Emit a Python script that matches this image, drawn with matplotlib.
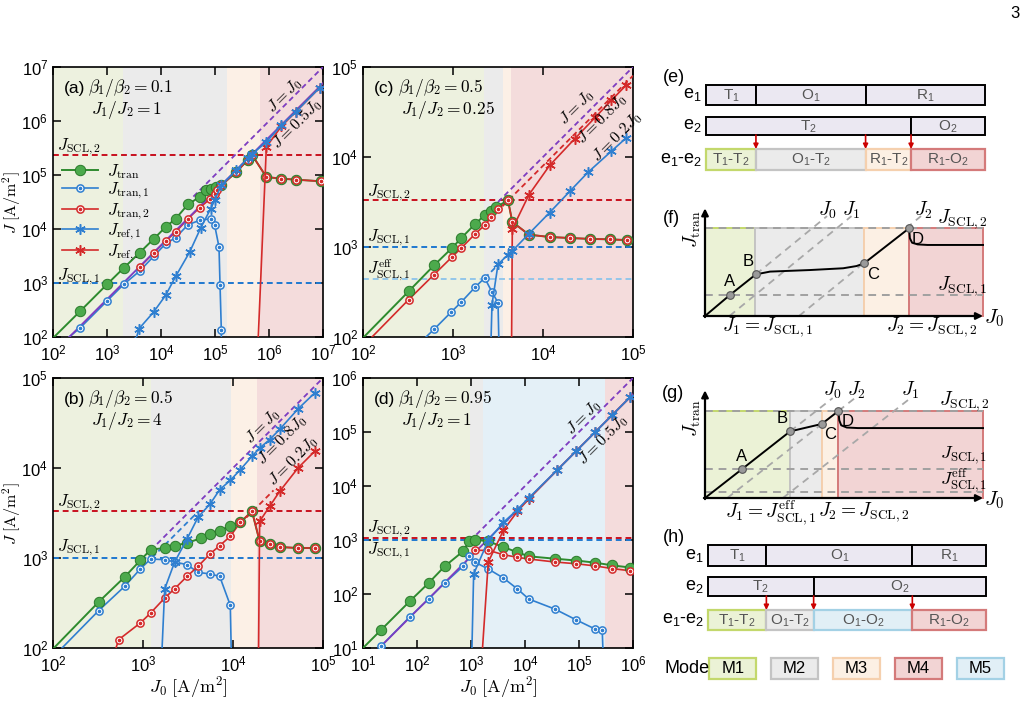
import numpy as np
import matplotlib
matplotlib.use("Agg")
import matplotlib.pyplot as plt
from matplotlib.patches import Rectangle
from matplotlib.ticker import LogLocator, NullLocator

plt.rcParams["font.family"] = ["Liberation Sans", "DejaVu Sans"]
plt.rcParams["mathtext.fontset"] = "cm"
plt.rcParams["axes.linewidth"] = 1.2

W, H = 1027, 702

# ---------------- data: log10 of J0 (x) and J (y), A/m^2 ----------------
# panel (a)  beta1/beta2 = 0.1, J1/J2 = 1
a_bounds = [2, 3.30, 5.22, 5.83, 7]
a_modes = ["M1", "M2", "M3", "M4"]
a_tran_x = [2.0, 2.506, 3.0, 3.309, 3.605, 3.864, 4.086, 4.272, 4.5, 4.716, 4.84, 4.93, 5.02, 5.117,
            5.395, 5.611, 5.691, 5.951, 6.228, 6.494, 6.969]
a_tran_y = [1.98, 2.481, 2.975, 3.278, 3.562, 3.815, 4.037, 4.191, 4.457, 4.593, 4.72, 4.75, 4.77, 4.81,
            5.056, 5.284, 5.364, 4.963, 4.932, 4.914, 4.883]
a_tran1_x = [2.3, 2.506, 3.0, 3.309, 3.605, 3.864, 4.086, 4.272, 4.5, 4.716, 4.92, 4.994, 5.074, 5.093, 5.117, 5.12]
a_tran1_y = [2.0, 2.173, 2.667, 2.975, 3.222, 3.494, 3.728, 3.84, 4.08, 4.16, 4.19, 4.07, 3.667, 2.97, 2.136, 1.5]
a_tran2_x = [3.605, 3.864, 4.086, 4.272, 4.5, 4.716, 4.901, 4.994, 5.043, 5.117, 5.395, 5.611, 5.691,
             5.951, 6.228, 6.494, 6.969]
a_tran2_y = [3.296, 3.556, 3.778, 3.944, 4.191, 4.395, 4.549, 4.654, 4.716, 4.809, 5.056, 5.284, 5.364,
             4.963, 4.932, 4.914, 4.883]
a_ref1_x = [3.52, 3.593, 3.864, 4.086, 4.272, 4.531, 4.735, 4.92, 4.994, 5.117, 5.395, 5.611, 5.691,
            5.951, 6.228, 6.494, 6.938]
a_ref1_y = [1.9, 2.154, 2.463, 2.772, 3.123, 3.574, 4.019, 4.377, 4.531, 4.81, 5.09, 5.31, 5.39,
            5.611, 5.92, 6.167, 6.617]
a_ref2_x = [5.78, 5.951, 6.228, 6.494, 6.938]
a_ref2_y = [1.5, 5.52, 5.9, 6.167, 6.617]
a_scl1, a_scl2 = 3.0, 5.364

# panel (b)  beta1/beta2 = 0.5, J1/J2 = 4
b_bounds = [2, 3.085, 3.98, 4.267, 5]
b_modes = ["M1", "M2", "M3", "M4"]
b_tran_x = [2.0, 2.507, 2.796, 2.970, 3.085, 3.241, 3.352, 3.489, 3.641, 3.748, 3.852, 3.963, 4.081,
            4.211, 4.296, 4.407, 4.519, 4.722, 4.907]
b_tran_y = [1.99, 2.511, 2.789, 2.974, 3.093, 3.111, 3.137, 3.167, 3.219, 3.270, 3.304, 3.352, 3.396,
            3.519, 3.185, 3.156, 3.122, 3.111, 3.111]
b_tran1_x = [2.1, 2.507, 2.796, 2.970, 3.085, 3.241, 3.352, 3.489, 3.611, 3.748, 3.852, 3.970, 3.99]
b_tran1_y = [2.0, 2.415, 2.685, 2.878, 2.989, 2.981, 2.956, 2.926, 2.841, 2.822, 2.796, 2.474, 1.5]
b_tran2_x = [2.7, 2.730, 2.970, 3.085, 3.241, 3.352, 3.489, 3.611, 3.748, 3.852, 3.970, 4.081, 4.211,
             4.296, 4.407, 4.519, 4.722, 4.907]
b_tran2_y = [2.0, 2.093, 2.278, 2.389, 2.556, 2.659, 2.796, 2.907, 3.048, 3.137, 3.241, 3.396, 3.519,
             3.185, 3.156, 3.122, 3.111, 3.111]
b_ref1_x = [3.19, 3.241, 3.352, 3.489, 3.611, 3.748, 3.852, 3.970, 4.081, 4.211, 4.296, 4.407, 4.519,
            4.722, 4.907]
b_ref1_y = [1.5, 2.656, 2.956, 3.211, 3.452, 3.604, 3.759, 3.863, 3.981, 4.13, 4.222, 4.315, 4.43,
            4.656, 4.833]
b_ref2_x = [4.28, 4.296, 4.407, 4.519, 4.722, 4.907]
b_ref2_y = [1.5, 3.407, 3.574, 3.741, 4.0, 4.185]
b_scl1, b_scl2 = 3.0, 3.519

# panel (c)  beta1/beta2 = 0.5, J1/J2 = 0.25
c_bounds = [2, 3.344, 3.556, 3.64, 5]
c_modes = ["M1", "M2", "M3", "M4"]
c_tran_x = [2.0, 2.507, 2.789, 2.989, 3.093, 3.248, 3.352, 3.426, 3.481, 3.611, 3.659, 3.844, 4.074,
            4.3, 4.52, 4.74, 4.93]
c_tran_y = [1.99, 2.507, 2.796, 2.989, 3.1, 3.259, 3.352, 3.4, 3.444, 3.519, 3.278, 3.137, 3.111,
            3.10, 3.09, 3.085, 3.077]
c_tran1_x = [2.7, 2.789, 2.981, 3.093, 3.248, 3.352, 3.433, 3.5, 3.52]
c_tran1_y = [2.0, 2.085, 2.278, 2.389, 2.556, 2.656, 2.5, 2.381, 1.5]
c_tran2_x = [2.1, 2.507, 2.789, 2.989, 3.093, 3.248, 3.352, 3.426, 3.5, 3.611, 3.659, 3.844, 4.074,
             4.3, 4.52, 4.74, 4.93]
c_tran2_y = [2.0, 2.415, 2.693, 2.889, 2.989, 3.148, 3.241, 3.333, 3.419, 3.519, 3.278, 3.137, 3.111,
             3.10, 3.09, 3.085, 3.077]
c_ref1_x = [3.41, 3.433, 3.5, 3.611, 3.659, 3.844, 4.074, 4.296, 4.5, 4.759, 4.926]
c_ref1_y = [1.5, 2.359, 2.807, 2.915, 2.956, 3.148, 3.383, 3.617, 3.83, 4.064, 4.213]
c_ref2_x = [3.648, 3.659, 3.844, 4.074, 4.35, 4.58, 4.76, 4.926]
c_ref2_y = [1.5, 3.2, 3.581, 3.907, 4.2, 4.44, 4.63, 4.8]
c_scl1, c_scl2, c_scl1_eff = 3.0, 3.519, 2.65

# panel (d)  beta1/beta2 = 0.95, J1/J2 = 1
d_bounds = [1, 2.988, 3.222, 5.48, 6]
d_modes = ["M1", "M2", "M5", "M4"]
d_tran_x = [1.0, 1.33, 1.864, 2.216, 2.512, 2.852, 2.97, 3.08, 3.32, 3.6, 3.86, 4.07, 4.55, 4.95, 5.3,
            5.62, 5.95]
d_tran_y = [1.0, 1.33, 1.864, 2.204, 2.512, 2.79, 2.988, 3.006, 2.975, 2.870, 2.772, 2.698, 2.654, 2.62,
            2.58, 2.53, 2.49]
d_tran1_x = [1.301, 1.33, 1.864, 2.216, 2.512, 2.852, 2.97, 3.08, 3.32, 3.6, 3.86, 4.07, 4.55, 4.95, 5.3,
             5.43, 5.46]
d_tran1_y = [1.0, 1.03, 1.574, 1.907, 2.204, 2.512, 2.698, 2.586, 2.463, 2.296, 2.093, 1.907, 1.722,
             1.52, 1.35, 1.33, 0.5]
d_tran2_x = [3.08, 3.32, 3.6, 3.86, 4.07, 4.55, 4.95, 5.3, 5.62, 5.95]
d_tran2_y = [2.809, 2.809, 2.728, 2.679, 2.648, 2.593, 2.56, 2.52, 2.47, 2.43]
d_ref1_x = [3.006, 3.049, 3.32, 3.6, 3.86, 4.07, 4.6, 4.95, 5.3, 5.62, 5.95]
d_ref1_y = [0.5, 2.370, 2.994, 3.327, 3.562, 3.778, 4.299, 4.649, 4.999, 5.319, 5.649]
d_ref2_x = [3.18, 3.32, 3.6, 3.86, 4.07, 4.6, 4.95, 5.3, 5.62, 5.95]
d_ref2_y = [0.5, 2.593, 3.179, 3.531, 3.759, 4.299, 4.649, 4.999, 5.319, 5.649]
d_scl1, d_scl2 = 2.995, 3.03

# schematic (e)/(f): boundaries as fraction of the J0 range
e_e1_bounds = [0, 0.179, 0.572, 1.0]
e_e1_names = ["T1", "O1", "R1"]
e_e2_bounds = [0, 0.735, 1.0]
e_e2_names = ["T2", "O2"]
e_mix_bounds = [0, 0.179, 0.572, 0.735, 1.0]
e_mix_names = ["T1-T2", "O1-T2", "R1-T2", "R1-O2"]
e_mix_modes = ["M1", "M2", "M3", "M4"]

h_e1_bounds = [0, 0.21, 0.735, 1.0]
h_e1_names = ["T1", "O1", "R1"]
h_e2_bounds = [0, 0.38, 1.0]
h_e2_names = ["T2", "O2"]
h_mix_bounds = [0, 0.21, 0.38, 0.735, 1.0]
h_mix_names = ["T1-T2", "O1-T2", "O1-O2", "R1-O2"]
h_mix_modes = ["M1", "M2", "M5", "M4"]

f_scl = [0.19, 0.79]
f_curve_x = [0, 0.09, 0.183, 0.234, 0.377, 0.497, 0.545, 0.572, 0.734, 0.737, 0.745, 0.765, 0.8, 1.0]
f_curve_y = [0, 0.19, 0.375, 0.40, 0.414, 0.43, 0.45, 0.474, 0.79, 0.70, 0.66, 0.645, 0.64, 0.64]
f_pts_x = [0.09, 0.183, 0.572, 0.734]
f_pts_y = [0.19, 0.375, 0.474, 0.79]

g_bounds = [0, 0.306, 0.42, 0.48, 1.0]
g_modes = ["M1", "M2", "M3", "M4"]
g_scl = [0.054, 0.26, 0.784]
g_curve_x = [0, 0.133, 0.306, 0.42, 0.48, 0.483, 0.49, 0.51, 0.55, 1.0]
g_curve_y = [0, 0.26, 0.60, 0.667, 0.784, 0.70, 0.655, 0.635, 0.63, 0.63]
g_pts_x = [0.133, 0.306, 0.42, 0.48]
g_pts_y = [0.26, 0.60, 0.667, 0.784]

mode_names = ["M1", "M2", "M3", "M4", "M5"]

# ---------------- styles ----------------
GREEN, GREEN_FACE, GREEN_EDGE = "#2e8b2e", "#4caa4c", "#2a7a2a"
BLUE, RED, PURPLE = "#2f7fd0", "#d42a2a", "#7d3cc0"
SCL2_RED, SCL1_BLUE, EFF_BLUE = "#c8101e", "#1f78d0", "#93c6ea"
plot_face = {"M1": "#edf1df", "M2": "#ebebeb", "M3": "#fcf0e6", "M4": "#f4dcdc", "M5": "#e4f0f7"}
box_face = {"M1": "#ebf2d6", "M2": "#ebebeb", "M3": "#fcf0e4", "M4": "#f2d4d4", "M5": "#e1eff6"}
box_edge = {"M1": "#c3d86c", "M2": "#c4c4c4", "M3": "#f5d0ae", "M4": "#d47a7a", "M5": "#a3d1e5"}
DASH = (0, (3, 2))

fig = plt.figure(figsize=(W / 100, H / 100), dpi=100)


def px_axes(x0, y0, x1, y1):
    return fig.add_axes([x0 / W, 1 - y1 / H, (x1 - x0) / W, (y1 - y0) / H])


def setup_log(ax, xr, yr, bounds, modes):
    ax.set_xscale("log")
    ax.set_yscale("log")
    ax.set_xlim(10 ** xr[0], 10 ** xr[1])
    ax.set_ylim(10 ** yr[0], 10 ** yr[1])
    for axis in (ax.xaxis, ax.yaxis):
        axis.set_major_locator(LogLocator(base=10, numticks=12))
        axis.set_minor_locator(NullLocator())
    ax.tick_params(which="both", direction="in", top=True, right=True, length=6, width=1.1,
                   labelsize=12, pad=5)
    ax.tick_params(axis="y", pad=3.5)
    for lo, hi, m in zip(bounds[:-1], bounds[1:], modes):
        ax.axvspan(10 ** lo, 10 ** hi, color=plot_face[m], lw=0, zorder=0)


def ref_line(ax, k, lx0, lx1, color, ls):
    x = 10 ** np.array([lx0, lx1])
    ax.plot(x, k * x, color=color, ls=ls, lw=1.3, zorder=3.5)


def scl_line(ax, ly, color):
    ax.axhline(10 ** ly, color=color, ls=DASH, lw=1.4, zorder=2.5)


def tran(ax, lx, ly, skip=0):
    x, y = 10 ** np.asarray(lx), 10 ** np.asarray(ly)
    ax.plot(x, y, "-", color=GREEN, lw=1.4, zorder=3.2)
    ax.plot(x[skip:], y[skip:], ls="none", marker="o", ms=7.5, mfc=GREEN_FACE, mec=GREEN_EDGE,
            mew=0.7, zorder=6)
    hl, = ax.plot([], [], "-", color=GREEN, lw=1.4, marker="o", ms=7.5, mfc=GREEN_FACE,
                  mec=GREEN_EDGE, mew=0.7)
    return hl


def tran_open(ax, lx, ly, color, skip=0, z=6.3):
    x, y = 10 ** np.asarray(lx), 10 ** np.asarray(ly)
    ax.plot(x, y, "-", color=color, lw=1.2, zorder=3.3)
    ax.plot(x[skip:], y[skip:], ls="none", marker="o", ms=5.2, mfc="white", mec=color, mew=1.1, zorder=z)
    ax.plot(x[skip:], y[skip:], ls="none", marker="o", ms=1.6, color=color, zorder=z + 0.05)
    h1, = ax.plot([], [], "-", color=color, lw=1.2, marker="o", ms=5.2, mfc="white", mec=color, mew=1.1)
    h2, = ax.plot([], [], ls="none", marker="o", ms=1.6, color=color)
    return (h1, h2)


def ref(ax, lx, ly, color, z=7):
    x, y = 10 ** np.asarray(lx), 10 ** np.asarray(ly)
    h, = ax.plot(x, y, "-", color=color, lw=1.2, marker=(6, 2, 0), ms=7.5, mew=1.1, zorder=z)
    return h


def line_text(ax, s, lx, ly):
    ax.text(10 ** lx, 10 ** ly, s, rotation=45, ha="center", va="center", fontsize=11.5,
            rotation_mode="anchor", zorder=8)


def head(ax, tag, beta, ratio):
    ax.text(0.04, 0.922, tag, transform=ax.transAxes, fontsize=12.5, va="center", zorder=8)
    ax.text(0.13, 0.922, beta, transform=ax.transAxes, fontsize=12.5, va="center", zorder=8)
    ax.text(0.14, 0.842, ratio, transform=ax.transAxes, fontsize=12.5, va="center", zorder=8)


def scl_text(ax, s, yfrac):
    ax.text(0.015, yfrac, s, transform=ax.transAxes, fontsize=12, va="center", zorder=8)


ax_a = px_axes(53, 67, 323, 337)
ax_c = px_axes(363, 67, 633, 337)
ax_b = px_axes(53, 378, 323, 648)
ax_d = px_axes(363, 378, 633, 648)

# ---- (a)
ax = ax_a
setup_log(ax, (2, 7), (2, 7), a_bounds, a_modes)
scl_line(ax, a_scl2, SCL2_RED)
scl_line(ax, a_scl1, SCL1_BLUE)
ref_line(ax, 1.0, 4.6, 7.0, PURPLE, (0, (3, 2)))
ref_line(ax, 0.5, 2.3, 7.0, PURPLE, "-")
h_tran = tran(ax, a_tran_x, a_tran_y, skip=1)
h_t1 = tran_open(ax, a_tran1_x, a_tran1_y, BLUE, skip=1)
h_t2 = tran_open(ax, a_tran2_x, a_tran2_y, RED, z=6.5)
h_r1 = ref(ax, a_ref1_x, a_ref1_y, BLUE)
h_r2 = ref(ax, a_ref2_x, a_ref2_y, RED, z=6.9)
head(ax, "(a)", r"$\beta_1/\beta_2=0.1$", r"$J_1/J_2=1$")
scl_text(ax, r"$J_{\mathrm{SCL},2}$", 0.704)
scl_text(ax, r"$J_{\mathrm{SCL},1}$", 0.222)
line_text(ax, r"$J=J_0$", 6.30, 6.47)
line_text(ax, r"$J=0.5J_0$", 6.52, 5.93)
ax.legend([h_tran, h_t1, h_t2, h_r1, h_r2],
          [r"$J_{\mathrm{tran}}$", r"$J_{\mathrm{tran},1}$", r"$J_{\mathrm{tran},2}$",
           r"$J_{\mathrm{ref},1}$", r"$J_{\mathrm{ref},2}$"],
          loc="upper left", bbox_to_anchor=(-0.005, 0.685), frameon=False, fontsize=12,
          handlelength=2.2, labelspacing=0.0, handletextpad=0.5, borderaxespad=0.2)
ax.set_ylabel(r"$J\ [\mathrm{A/m^2}]$", fontsize=11.5, va="center")
ax.yaxis.set_label_coords(-0.153, 0.5)

# ---- (b)
ax = ax_b
setup_log(ax, (2, 5), (2, 5), b_bounds, b_modes)
scl_line(ax, b_scl2, SCL2_RED)
scl_line(ax, b_scl1, SCL1_BLUE)
ref_line(ax, 1.0, 3.085, 5.0, PURPLE, (0, (3, 2)))
ref_line(ax, 0.8, 3.1, 3.62, BLUE, (0, (3, 2)))
ref_line(ax, 0.2, 4.08, 4.45, RED, (0, (3, 2)))
tran(ax, b_tran_x, b_tran_y, skip=1)
tran_open(ax, b_tran1_x, b_tran1_y, BLUE, skip=1)
tran_open(ax, b_tran2_x, b_tran2_y, RED, skip=1, z=6.5)
ref(ax, b_ref1_x, b_ref1_y, BLUE)
ref(ax, b_ref2_x, b_ref2_y, RED, z=6.9)
head(ax, "(b)", r"$\beta_1/\beta_2=0.5$", r"$J_1/J_2=4$")
scl_text(ax, r"$J_{\mathrm{SCL},2}$", 0.537)
scl_text(ax, r"$J_{\mathrm{SCL},1}$", 0.37)
line_text(ax, r"$J=J_0$", 4.33, 4.46)
line_text(ax, r"$J=0.8J_0$", 4.54, 4.31)
line_text(ax, r"$J=0.2J_0$", 4.67, 4.07)
ax.set_ylabel(r"$J\ [\mathrm{A/m^2}]$", fontsize=11.5, va="center")
ax.yaxis.set_label_coords(-0.153, 0.5)
ax.set_xlabel(r"$J_0\ [\mathrm{A/m^2}]$", fontsize=13, va="center")
ax.xaxis.set_label_coords(0.5, -0.145)

# ---- (c)
ax = ax_c
setup_log(ax, (2, 5), (2, 5), c_bounds, c_modes)
scl_line(ax, c_scl2, SCL2_RED)
scl_line(ax, c_scl1, SCL1_BLUE)
scl_line(ax, c_scl1_eff, EFF_BLUE)
ref_line(ax, 1.0, 3.5, 5.0, PURPLE, (0, (3, 2)))
ref_line(ax, 0.8, 3.55, 5.0, RED, (0, (3, 2)))
ref_line(ax, 0.2, 3.352, 3.5, BLUE, (0, (3, 2)))
tran(ax, c_tran_x, c_tran_y, skip=1)
tran_open(ax, c_tran1_x, c_tran1_y, BLUE, skip=1)
tran_open(ax, c_tran2_x, c_tran2_y, RED, skip=1, z=6.5)
ref(ax, c_ref1_x, c_ref1_y, BLUE)
ref(ax, c_ref2_x, c_ref2_y, RED, z=6.9)
head(ax, "(c)", r"$\beta_1/\beta_2=0.5$", r"$J_1/J_2=0.25$")
scl_text(ax, r"$J_{\mathrm{SCL},2}$", 0.533)
scl_text(ax, r"$J_{\mathrm{SCL},1}$", 0.367)
scl_text(ax, r"$J_{\mathrm{SCL},1}^{\mathrm{eff}}$", 0.248)
line_text(ax, r"$J=J_0$", 4.38, 4.55)
line_text(ax, r"$J=0.8J_0$", 4.66, 4.42)
line_text(ax, r"$J=0.2J_0$", 4.82, 4.22)

# ---- (d)
ax = ax_d
setup_log(ax, (1, 6), (1, 6), d_bounds, d_modes)
scl_line(ax, d_scl2, SCL2_RED)
scl_line(ax, d_scl1, SCL1_BLUE)
ref_line(ax, 1.0, 3.1, 6.0, PURPLE, (0, (3, 2)))
ref_line(ax, 0.5, 1.301, 6.0, PURPLE, "-")
tran(ax, d_tran_x, d_tran_y, skip=1)
tran_open(ax, d_tran1_x, d_tran1_y, BLUE, skip=1)
tran_open(ax, d_tran2_x, d_tran2_y, RED, z=6.5)
ref(ax, d_ref1_x, d_ref1_y, BLUE)
ref(ax, d_ref2_x, d_ref2_y, RED, z=6.9)
head(ax, "(d)", r"$\beta_1/\beta_2=0.95$", r"$J_1/J_2=1$")
scl_text(ax, r"$J_{\mathrm{SCL},2}$", 0.44)
scl_text(ax, r"$J_{\mathrm{SCL},1}$", 0.36)
line_text(ax, r"$J=J_0$", 5.09, 5.27)
line_text(ax, r"$J=0.5J_0$", 5.44, 4.85)
ax.set_xlabel(r"$J_0\ [\mathrm{A/m^2}]$", fontsize=13, va="center")
ax.xaxis.set_label_coords(0.5, -0.145)


# ---------------- schematics ----------------
def sub(name):
    parts = name.split("-")
    return "-".join(r"$\mathregular{%s_%s}$" % (p[0], p[1]) for p in parts)


def bar_row(ax, bounds, names, y0, h, modes=None):
    for i, (lo, hi, nm) in enumerate(zip(bounds[:-1], bounds[1:], names)):
        if modes is None:
            fc, ec, lw = "#ebe8f2", "black", 1.4
        else:
            fc, ec, lw = box_face[modes[i]], box_edge[modes[i]], 1.6
        ax.add_patch(Rectangle((lo, y0), hi - lo, h, fc=fc, ec=ec, lw=lw, clip_on=False))
        ax.text((lo + hi) / 2, y0 + h / 2 + 0.5, sub(nm), ha="center", va="center", fontsize=11,
                color="#555555")


def bar_block(ax, b1, n1, b2, n2, bm, nm, mm, rows):
    (y1, h1), (y2, h2), (y3, h3) = rows
    bar_row(ax, b1, n1, y1, h1)
    bar_row(ax, b2, n2, y2, h2)
    bar_row(ax, bm, nm, y3, h3, mm)
    for lab, (yy, hh) in zip([r"$\mathregular{e_1}$", r"$\mathregular{e_2}$",
                              r"$\mathregular{e_1}$-$\mathregular{e_2}$"], rows):
        ax.text(-0.015, yy + hh / 2, lab, ha="right", va="center", fontsize=13)
    for b in bm[1:-1]:
        ax.annotate("", xy=(b, y3), xytext=(b, y2 + h2),
                    arrowprops=dict(arrowstyle="-|>", color="#cc0000", lw=1.2, mutation_scale=7,
                                    shrinkA=0, shrinkB=0))


ax_e = px_axes(706, 80, 985, 172)
ax_e.set_xlim(0, 1)
ax_e.set_ylim(172, 80)
ax_e.axis("off")
bar_block(ax_e, e_e1_bounds, e_e1_names, e_e2_bounds, e_e2_names, e_mix_bounds, e_mix_names,
          e_mix_modes, [(85, 20), (117, 18), (149, 21)])

ax_h = px_axes(708, 540, 986, 682)
ax_h.set_xlim(0, 1)
ax_h.set_ylim(682, 540)
ax_h.axis("off")
bar_block(ax_h, h_e1_bounds, h_e1_names, h_e2_bounds, h_e2_names, h_mix_bounds, h_mix_names,
          h_mix_modes, [(545, 21), (577, 19), (610, 20)])
box_w, box_gap = 0.17, 0.2225
for i, m in enumerate(mode_names):
    x0 = 0.004 + i * box_gap
    ax_h.add_patch(Rectangle((x0, 658), box_w, 21, fc=box_face[m], ec=box_edge[m], lw=1.6, clip_on=False))
    ax_h.text(x0 + box_w / 2, 669, m, ha="center", va="center", fontsize=12)
ax_h.text(-0.155, 669, "Mode", ha="left", va="center", fontsize=13)


def schematic(ax, bounds, modes, scl, cx, cy, px, py, diags, slope, ylab_y):
    ax.set_xlim(0, 1)
    ax.set_ylim(0, 1)
    ax.axis("off")
    top = scl[-1]
    for lo, hi, m in zip(bounds[:-1], bounds[1:], modes):
        ax.add_patch(Rectangle((lo, 0), hi - lo, top, fc=box_face[m], ec=box_edge[m], lw=1.4,
                               clip_on=False, zorder=1))
    for lv in scl:
        ax.plot([0, 1], [lv, lv], color="#a0a0a0", ls=(0, (4, 3)), lw=1.4, zorder=2, clip_on=False)
    for x0, segs in diags:
        for y0, y1 in segs:
            ax.plot([x0 + y0 / slope, x0 + y1 / slope], [y0, y1], color="#a8a8a8", ls=(0, (4, 3)),
                    lw=1.3, zorder=2, clip_on=False)
    ax.plot(cx, cy, color="black", lw=1.4, zorder=4, clip_on=False)
    ax.plot(px, py, ls="none", marker="o", ms=5.5, mfc="#9a9a9a", mec="#555555", mew=0.8, zorder=5,
            clip_on=False)
    ax.annotate("", xy=(1.0, 0), xytext=(-0.004, 0),
                arrowprops=dict(arrowstyle="-|>", color="black", lw=1.6, mutation_scale=10,
                                shrinkA=0, shrinkB=0))
    ax.annotate("", xy=(0, 0.97), xytext=(0, -0.01),
                arrowprops=dict(arrowstyle="-|>", color="black", lw=1.6, mutation_scale=10,
                                shrinkA=0, shrinkB=0))
    ax.text(-0.047, ylab_y, r"$J_{\mathrm{tran}}$", rotation=90, ha="center", va="center", fontsize=14)
    ax.text(1.005, -0.02, r"$J_0$", ha="left", va="center", fontsize=15)


def point_labels(ax, xs, ys):
    for lab, x, y, ha, va in zip("ABCD", xs, ys, ["center", "right", "left", "left"],
                                 ["bottom", "bottom", "top", "top"]):
        dx = {"center": 0, "right": -0.008, "left": 0.01}[ha]
        dy = 0.05 if va == "bottom" else -0.03
        ax.text(x + dx, y + dy, lab, ha=ha, va=va, fontsize=12)


ax_f = px_axes(705, 205, 983, 316)
f_diags = [(0.0, [(0.375, 0.9)]), (0.088, [(0, 0.9)]), (0.338, [(0, 0.474), (0.79, 0.9)])]
schematic(ax_f, e_mix_bounds, e_mix_modes, f_scl, f_curve_x, f_curve_y, f_pts_x, f_pts_y, f_diags,
          2.05, 0.78)
point_labels(ax_f, f_pts_x, f_pts_y)
for s, x in zip([r"$J_0$", r"$J_1$", r"$J_2$"], [0.44, 0.527, 0.787]):
    ax_f.text(x, 0.95, s, ha="center", va="center", fontsize=14)
ax_f.text(0.835, 0.87, r"$J_{\mathrm{SCL},2}$", ha="left", va="center", fontsize=14)
ax_f.text(0.835, 0.27, r"$J_{\mathrm{SCL},1}$", ha="left", va="center", fontsize=14)
ax_f.text(0.226, -0.1, r"$J_1=J_{\mathrm{SCL},1}$", ha="center", va="center", fontsize=14)
ax_f.text(0.816, -0.1, r"$J_2=J_{\mathrm{SCL},2}$", ha="center", va="center", fontsize=14)

ax_g = px_axes(705, 387, 983, 498)
g_diags = [(0.0, [(0.6, 0.9)]), (0.28, [(0, 0.9)]), (0.08, [(0, 0.667), (0.784, 0.9)])]
schematic(ax_g, g_bounds, g_modes, g_scl, g_curve_x, g_curve_y, g_pts_x, g_pts_y, g_diags,
          1.96, 0.72)
point_labels(ax_g, g_pts_x, g_pts_y)
for s, x in zip([r"$J_0$", r"$J_2$", r"$J_1$"], [0.46, 0.545, 0.74]):
    ax_g.text(x, 0.97, s, ha="center", va="center", fontsize=14)
ax_g.text(0.84, 0.87, r"$J_{\mathrm{SCL},2}$", ha="left", va="center", fontsize=14)
ax_g.text(0.845, 0.385, r"$J_{\mathrm{SCL},1}$", ha="left", va="center", fontsize=13)
ax_g.text(0.845, 0.15, r"$J_{\mathrm{SCL},1}^{\mathrm{eff}}$", ha="left", va="center", fontsize=13)
ax_g.text(0.235, -0.13, r"$J_1=J_{\mathrm{SCL},1}^{\mathrm{eff}}$", ha="center", va="center", fontsize=14)
ax_g.text(0.57, -0.13, r"$J_2=J_{\mathrm{SCL},2}$", ha="center", va="center", fontsize=14)

for tag, x, y in [("(e)", 663, 78), ("(f)", 663, 218), ("(g)", 662, 393), ("(h)", 663, 537)]:
    fig.text(x / W, 1 - y / H, tag, fontsize=13, va="center")
fig.text(1010 / W, 1 - 13 / H, "3", fontsize=12, va="center")

fig.savefig("out.png", dpi=100)
